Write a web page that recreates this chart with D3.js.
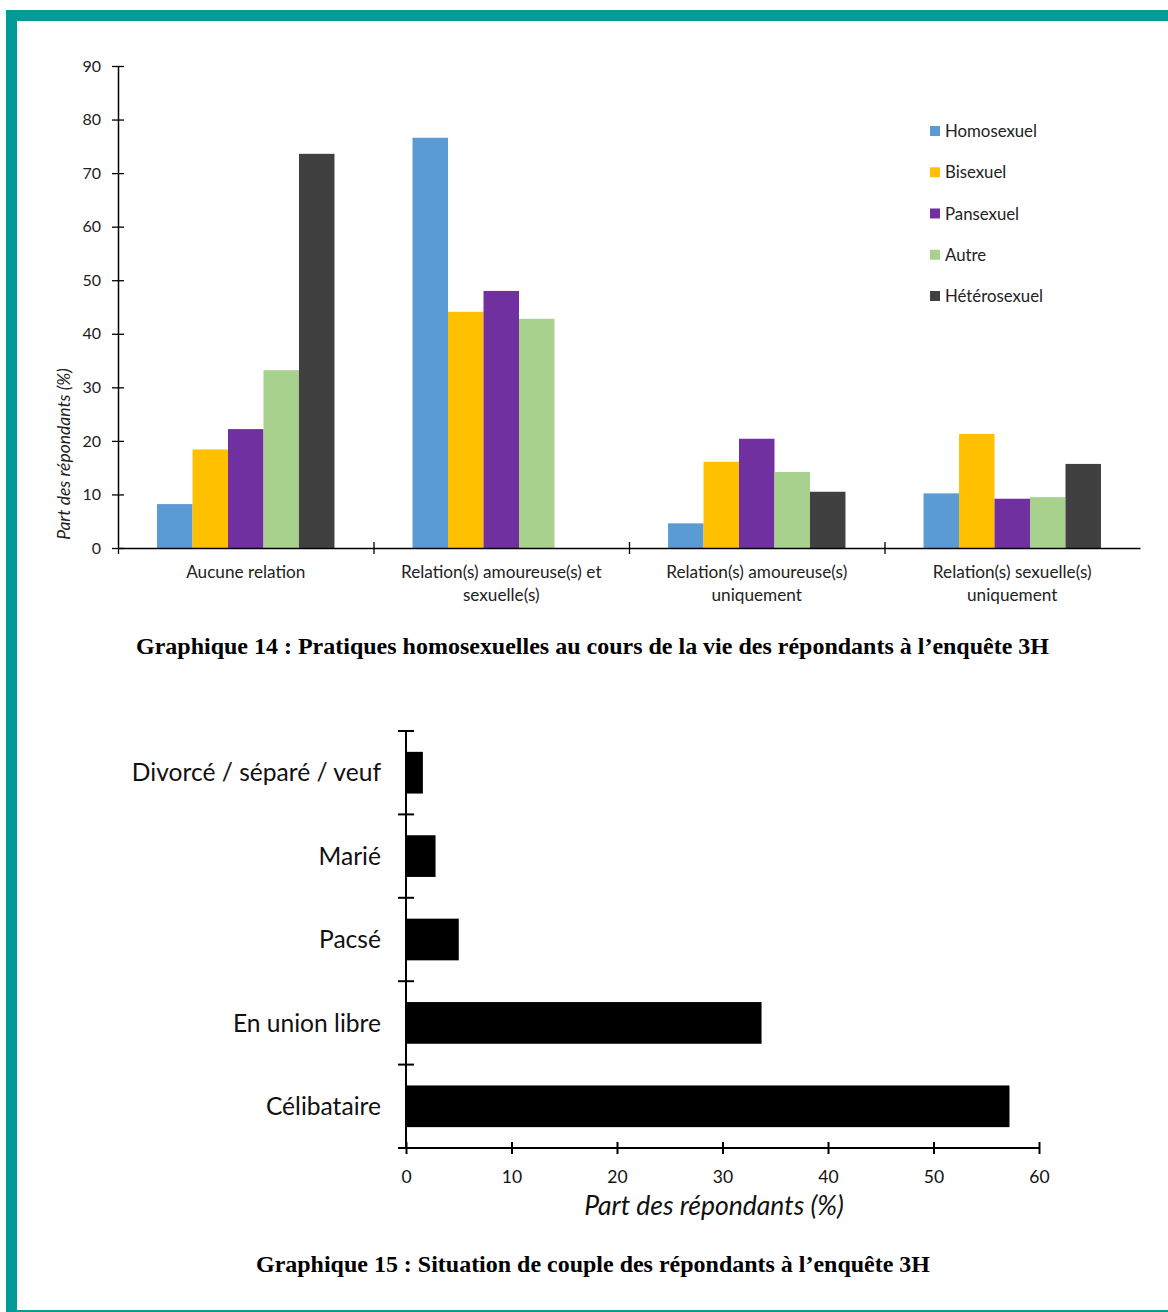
<!DOCTYPE html>
<html>
<head>
<meta charset="utf-8">
<script src="https://cdn.jsdelivr.net/npm/d3@7"></script>
<style>
  html, body { margin: 0; padding: 0; background: #fff; }
  svg { display: block; }
</style>
</head>
<body>
<svg id="chart" width="1168" height="1312"></svg>
<script>
// ---------- Data: Graphique 14 ----------
const categories14 = [
  "Aucune relation",
  "Relation(s) amoureuse(s) et sexuelle(s)",
  "Relation(s) amoureuse(s) uniquement",
  "Relation(s) sexuelle(s) uniquement"
];
const categoryLines14 = [
  ["Aucune relation"],
  ["Relation(s) amoureuse(s) et", "sexuelle(s)"],
  ["Relation(s) amoureuse(s)", "uniquement"],
  ["Relation(s) sexuelle(s)", "uniquement"]
];
const series14 = ["Homosexuel", "Bisexuel", "Pansexuel", "Autre", "Hétérosexuel"];
const homosexuel   = [8.2, 76.6, 4.6, 10.2];
const bisexuel     = [18.4, 44.1, 16.1, 21.3];
const pansexuel    = [22.2, 48.0, 20.4, 9.2];
const autre        = [33.2, 42.8, 14.2, 9.5];
const heterosexuel = [73.6, 0, 10.5, 15.7];
const colors14 = ["#5B9BD5", "#FFC000", "#7030A0", "#A9D18E", "#404040"];
const yTicks14 = [0, 10, 20, 30, 40, 50, 60, 70, 80, 90];

// ---------- Data: Graphique 15 ----------
const categories15 = ["Divorcé / séparé / veuf", "Marié", "Pacsé", "En union libre", "Célibataire"];
const values15 = [1.6, 2.8, 5.0, 33.7, 57.2];
const xTicks15 = [0, 10, 20, 30, 40, 50, 60];

const caption14 = "Graphique 14 : Pratiques homosexuelles au cours de la vie des répondants à l’enquête 3H";
const caption15 = "Graphique 15 : Situation de couple des répondants à l’enquête 3H";
const yTitle14 = "Part des répondants (%)";
const xTitle15 = "Part des répondants (%)";

const seriesValues14 = [homosexuel, bisexuel, pansexuel, autre, heterosexuel];

const svg = d3.select("#chart");
const FONT = "Lato, 'Open Sans', sans-serif";
const SERIF = "'Liberation Serif', 'DejaVu Serif', serif";
const TEAL = "#049A98";

// ---------- Frame ----------
svg.append("rect").attr("x", 6).attr("y", 10).attr("width", 1162).attr("height", 11).attr("fill", TEAL);
svg.append("rect").attr("x", 6).attr("y", 10).attr("width", 11).attr("height", 1302).attr("fill", TEAL);
svg.append("rect").attr("x", 6).attr("y", 1310).attr("width", 1162).attr("height", 2).attr("fill", TEAL);

// ---------- Chart 14 ----------
const g1 = svg.append("g");
const x0 = d3.scaleBand().domain(categories14).range([118, 1140]).paddingInner(0).paddingOuter(0);
const x1 = d3.scaleBand().domain(series14).range([0, x0.bandwidth()]).paddingInner(0).paddingOuter(1.1);
const y14 = d3.scaleLinear().domain([0, 90]).range([548, 66]);

// bars
series14.forEach((s, si) => {
  g1.append("g").selectAll("rect")
    .data(categories14.map((c, ci) => ({ c, v: seriesValues14[si][ci] })))
    .join("rect")
    .attr("x", d => x0(d.c) + x1(s))
    .attr("width", x1.bandwidth())
    .attr("y", d => y14(d.v))
    .attr("height", d => y14(0) - y14(d.v))
    .attr("fill", colors14[si]);
});

// y axis
const yAxis14 = d3.axisLeft(y14).tickValues(yTicks14).tickSizeInner(6).tickSizeOuter(0).tickPadding(11);
const ya = g1.append("g").attr("transform", "translate(118,0)").call(yAxis14);
ya.select(".domain").attr("stroke", "#000").attr("stroke-width", 1.5);
ya.selectAll(".tick line").attr("x1", 6).attr("stroke", "#000").attr("stroke-width", 1.3);
ya.selectAll(".tick text").attr("font-family", FONT).attr("font-size", 16).attr("fill", "#222");

// x axis
const boundaries = categories14.map(c => x0(c)).concat([x0.range()[1]]);
const xAxis14 = d3.axisBottom(d3.scaleLinear().domain([118, 1140]).range([118, 1140]))
  .tickValues(boundaries).tickSizeInner(6).tickSizeOuter(0).tickFormat("");
const xa = g1.append("g").attr("transform", "translate(0,548)").call(xAxis14);
xa.select(".domain").attr("stroke", "#000").attr("stroke-width", 1.5);
xa.selectAll(".tick line").attr("y1", (d, i) => (i === 0 || i === boundaries.length - 1) ? 0 : -6)
  .attr("stroke", "#000").attr("stroke-width", 1.3);
xa.selectAll(".tick").filter((d, i) => i === boundaries.length - 1).select("line").attr("y2", 0);

// category labels
categories14.forEach((c, ci) => {
  const t = g1.append("text")
    .attr("x", x0(c) + x0.bandwidth() / 2)
    .attr("y", 578)
    .attr("text-anchor", "middle")
    .attr("font-family", FONT).attr("font-size", 17.2).attr("fill", "#222");
  categoryLines14[ci].forEach((line, li) => {
    t.append("tspan").attr("x", x0(c) + x0.bandwidth() / 2).attr("dy", li === 0 ? 0 : 23).text(line);
  });
});

// y title
g1.append("text")
  .attr("transform", "translate(70,454) rotate(-90)")
  .attr("text-anchor", "middle")
  .attr("font-family", FONT).attr("font-style", "italic").attr("font-size", 17.5).attr("fill", "#222")
  .text(yTitle14);

// legend
const leg = g1.append("g").selectAll("g").data(series14).join("g")
  .attr("transform", (d, i) => `translate(930,${131 + i * 41.25})`);
leg.append("rect").attr("x", 0).attr("y", -5).attr("width", 10).attr("height", 10)
  .attr("fill", (d, i) => colors14[i]);
leg.append("text").attr("x", 15).attr("y", 6)
  .attr("font-family", FONT).attr("font-size", 16.8).attr("fill", "#222")
  .text(d => d);

// caption 14
svg.append("text")
  .attr("x", 136).attr("y", 654)
  .attr("textLength", 913).attr("lengthAdjust", "spacingAndGlyphs")
  .attr("font-family", SERIF).attr("font-weight", "bold").attr("font-size", 22.5).attr("fill", "#000")
  .text(caption14);

// ---------- Chart 15 ----------
const g2 = svg.append("g");
const xs15 = d3.scaleLinear().domain([0, 60]).range([406, 1039]);
const ys15 = d3.scaleBand().domain(categories15).range([731, 1148]).paddingInner(0.5).paddingOuter(0.25);

g2.append("g").selectAll("rect").data(categories15.map((c, i) => ({ c, v: values15[i] })))
  .join("rect")
  .attr("x", xs15(0))
  .attr("y", d => ys15(d.c))
  .attr("width", d => xs15(d.v) - xs15(0))
  .attr("height", ys15.bandwidth())
  .attr("fill", "#000");

// x axis
const xAxis15 = d3.axisBottom(xs15).tickValues(xTicks15).tickSizeInner(6).tickSizeOuter(0).tickPadding(17);
const xb = g2.append("g").attr("transform", "translate(0,1148)").call(xAxis15);
xb.select(".domain").attr("stroke", "#000").attr("stroke-width", 2).attr("d", "M398,0H1039");
xb.selectAll(".tick line").attr("y1", -6).attr("stroke", "#000").attr("stroke-width", 2);
xb.selectAll(".tick text").attr("font-family", FONT).attr("font-size", 17.5).attr("fill", "#111");

// y axis with ticks at band boundaries
const bounds15 = d3.range(categories15.length + 1).map(i => 731 + i * (1148 - 731) / categories15.length);
const yb = g2.append("g");
yb.append("line").attr("x1", 406).attr("x2", 406).attr("y1", 731).attr("y2", 1148)
  .attr("stroke", "#000").attr("stroke-width", 2);
yb.selectAll("line.tk").data(bounds15.slice(0, -1)).join("line").attr("class", "tk")
  .attr("x1", 398).attr("x2", 414).attr("y1", d => d).attr("y2", d => d)
  .attr("stroke", "#000").attr("stroke-width", 2);
yb.selectAll("text").data(categories15).join("text")
  .attr("x", 381)
  .attr("y", d => ys15(d) + ys15.bandwidth() / 2)
  .attr("dy", "0.35em")
  .attr("text-anchor", "end")
  .attr("font-family", FONT).attr("font-size", 24.6).attr("fill", "#111")
  .text(d => d);

// x title
g2.append("text")
  .attr("x", 714).attr("y", 1215)
  .attr("text-anchor", "middle")
  .attr("font-family", FONT).attr("font-style", "italic").attr("font-size", 26.5).attr("fill", "#111")
  .text(xTitle15);

// caption 15
svg.append("text")
  .attr("x", 256).attr("y", 1272)
  .attr("textLength", 674).attr("lengthAdjust", "spacingAndGlyphs")
  .attr("font-family", SERIF).attr("font-weight", "bold").attr("font-size", 22.5).attr("fill", "#000")
  .text(caption15);
</script>
</body>
</html>
